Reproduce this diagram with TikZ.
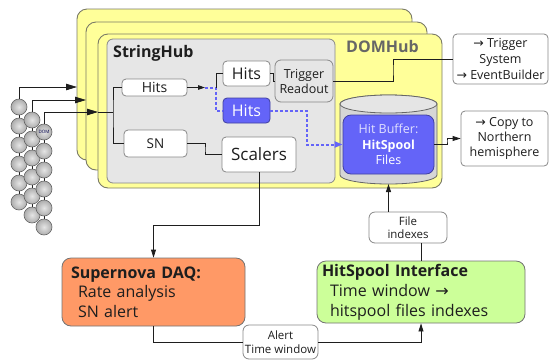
\documentclass[tikz,border=0pt]{standalone}
\usepackage{fontspec}
\setmainfont{Open Sans}
\newfontfamily\symfont{DejaVu Sans}
\usetikzlibrary{arrows.meta,calc}
\newcommand\rarrow{{\symfont →}}
\newcommand\fs[2]{\fontsize{#1}{#2}\selectfont}

\definecolor{hubyellow}{HTML}{FFFF99}
\definecolor{hubline}{HTML}{7A7A66}
\definecolor{shubgray}{HTML}{E6E6E6}
\definecolor{boxline}{HTML}{888888}
\definecolor{hitblue}{HTML}{6464F8}
\definecolor{hitblueline}{HTML}{4040A0}
\definecolor{daqorange}{HTML}{FF9966}
\definecolor{hsigreen}{HTML}{CCFF99}
\definecolor{cylgray}{HTML}{D6D6D6}
\definecolor{inkc}{HTML}{1E1E1E}

\tikzset{
  yel/.style={draw=hubline, line width=0.9pt, fill=hubyellow, rounded corners=10pt, inner sep=0pt},
  shub/.style={draw=boxline, line width=0.8pt, fill=shubgray, rounded corners=6pt, inner sep=0pt},
  wbox/.style={draw=boxline, line width=0.8pt, fill=white, rounded corners=4pt, inner sep=0pt, align=center, text=inkc},
  conn/.style={draw=inkc, line width=0.8pt},
  arr/.style={conn, -{Triangle[length=8pt,width=5pt]}},
  bigarr/.style={conn, -{Triangle[length=11pt,width=6.5pt]}},
  bluedot/.style={draw=hitblue, line width=2pt, dash pattern=on 3pt off 2pt},
  dom/.style={circle, minimum size=16pt, inner sep=0pt, draw=gray!80!black, line width=0.6pt,
              inner color=gray!20, outer color=gray!65},
}

\begin{document}
\begin{tikzpicture}[x=1pt,y=-1pt]
\useasboundingbox (0,0) rectangle (549,360);

% ---- DOMHub stack ----
\node[yel, minimum width=335pt, minimum height=151pt] (dh3) at (244.5,84.5) {};
\node[yel, minimum width=341pt, minimum height=148pt] (dh2) at (256.5,96) {};
\node[yel, minimum width=344pt, minimum height=154pt] (dh1) at (270,111) {};
\node[font=\fs{16}{18}\bfseries, text=black!60, anchor=base west, inner sep=0pt] (dhlabel) at (346,52) {DOMHub};

% ---- StringHub ----
\node[shub, minimum width=228pt, minimum height=144pt] (shub) at (221,111) {};
\node[font=\fs{16}{18}\bfseries, text=inkc, anchor=base west, inner sep=0pt] (shlabel) at (113,57) {StringHub};

\node[wbox, font=\fs{14}{16}, minimum width=65pt, minimum height=17pt] (hitsA) at (154.5,87.5) {Hits};
\node[wbox, font=\fs{13.5}{15}, minimum width=63pt, minimum height=27pt] (sn) at (155.5,143.5) {SN};
\node[wbox, font=\fs{16}{18}, minimum width=47pt, minimum height=25pt] (hitsB) at (246.5,73.5) {Hits};
\node[wbox, font=\fs{16}{18}, draw=hitblueline, fill=hitblue, text=white, minimum width=47pt, minimum height=25pt] (hitsC) at (246.5,110.5) {Hits};
\node[wbox, font=\fs{17}{19}, minimum width=74pt, minimum height=35pt] (scal) at (259,154.5) {Scalers};
\node[wbox, font=\fs{12.5}{15}, fill=shubgray, rounded corners=6pt, minimum width=58pt, minimum height=42pt] (trig) at (304,81) {Trigger\\Readout};

% ---- hit buffer cylinder ----
\draw[draw=black!60, line width=0.8pt, fill=cylgray]
  (340,104) -- (340,175) arc[start angle=180, end angle=360, x radius=48.5pt, y radius=9pt]
  -- (437,104) arc[start angle=0, end angle=180, x radius=48.5pt, y radius=9pt] -- cycle;
\draw[draw=black!60, line width=0.8pt, fill=black!10] (388.5,104) ellipse[x radius=48.5pt, y radius=9pt];
\coordinate (cylbot) at (388.5,184);
\node[wbox, font=\fs{12.5}{15.5}, draw=hitblueline, fill=hitblue, text=white, rounded corners=8pt,
      minimum width=91pt, minimum height=59pt] (buf) at (388.5,144.5)
      {\textcolor{blue!12}{Hit Buffer:}\\\textbf{HitSpool}\\Files};

% ---- outputs ----
\node[wbox, font=\fs{12.5}{16}, minimum width=95pt, minimum height=50pt] (trigsys) at (500.5,59)
  {\rarrow\ Trigger\\System\\\rarrow\ EventBuilder};
\node[wbox, font=\fs{12.5}{15}, minimum width=87pt, minimum height=55pt] (copy) at (504.5,138.5)
  {\rarrow\ Copy to\\Northern\\hemisphere};

% ---- bottom row ----
\node[wbox, font=\fs{16}{19.5}, fill=daqorange, draw=black!55, rounded corners=9pt, align=left,
      text width=165pt, inner xsep=9pt, minimum width=179pt, minimum height=68pt] (sndaq) at (153.5,292)
  {\textbf{Supernova DAQ:}\\\hspace*{7pt}Rate analysis\\\hspace*{7pt}SN alert};
\node[wbox, font=\fs{16}{20}, fill=hsigreen, draw=black!55, rounded corners=9pt, align=left,
      text width=198pt, inner xsep=5pt, minimum width=208pt, minimum height=62pt] (hsi) at (421,292)
  {\textbf{HitSpool Interface}\\\hspace*{8pt}Time window \rarrow\\\hspace*{8pt}hitspool files indexes};
\node[wbox, font=\fs{11.5}{13.5}, rounded corners=6pt, minimum width=78pt, minimum height=31pt] (file) at (408,227.5)
  {File\\indexes};
\node[wbox, font=\fs{11.5}{14}, rounded corners=6pt, minimum width=75pt, minimum height=34pt] (alert) at (280.5,342)
  {Alert\\Time window};

% ---- DOM strings ----
\foreach \i [evaluate=\i as \ya using 107+19*(\i-1),
             evaluate=\i as \yb using 120+19*(\i-1),
             evaluate=\i as \yc using 132+19*(\i-1)] in {1,...,6} {
  \coordinate (a\i) at (19,\ya);
  \coordinate (b\i) at (32,\yb);
  \coordinate (c\i) at (44,\yc);
}
\draw[conn, line width=0.5pt] (a1) -- (a6) (b1) -- (b6) (c1) -- (c6);
\foreach \i in {1,...,6} { \node[dom] (da\i) at (a\i) {}; }
\foreach \i in {1,...,6} { \node[dom] (db\i) at (b\i) {}; }
\foreach \i in {2,...,6} { \node[dom] (dc\i) at (c\i) {}; }
\node[dom, font=\fs{4.5}{5}, text=blue!30!black] (dc1) at (c1) {DOM};

% ---- connectors ----
\coordinate (in1) at (77,87);
\coordinate (in2) at (86,100);
\coordinate (in3) at (98,112);
\coordinate (j3) at (113,112);
\draw[bigarr] (da1.north) |- (in1);
\draw[bigarr] (db1.north) |- (in2);
\draw[bigarr] (dc1.north) |- (in3);
\draw[conn] (in3) -- (j3);
\draw[conn] (hitsA.west) -| (j3) |- (sn.west);

\coordinate (split) at (205,87.5);
\coordinate (fork) at (216,87.5);
\draw[conn, -{Triangle[length=7pt,width=4.5pt]}] (hitsA.east) -- (split);
\draw[bluedot] (split) -- (fork) |- (hitsC.west);
\draw[conn] (fork) |- (hitsB.west);
\draw[conn] (hitsB.east) -- ++(2.5,0) |- (trig.west);

\coordinate (j12) at (205,150);
\draw[conn] (sn.east) -| (j12) |- (scal.west);

\coordinate (j4) at (393,70);
\draw[conn] (trig.east) -| (j4) |- (trigsys.west);

\coordinate (j5) at (307,130);
\draw[bluedot, -{Triangle[length=8pt,width=6pt]}] (hitsC.east) -| (j5) |- (buf.west);

\coordinate (j6) at (447,141);
\draw[arr] (buf.east) -| (j6) |- (copy.west);

\coordinate (j7) at (153.5,225);
\draw[arr] (scal.south) |- (j7) -- (sndaq.north);
\draw[conn] (sndaq.south) |- (alert.west);
\draw[arr] (alert.east) -| (hsi.south);
\draw[conn] (hsi.north) -- (hsi.north |- file.south);
\draw[arr] (cylbot |- file.north) -- (cylbot);
\end{tikzpicture}
\end{document}
